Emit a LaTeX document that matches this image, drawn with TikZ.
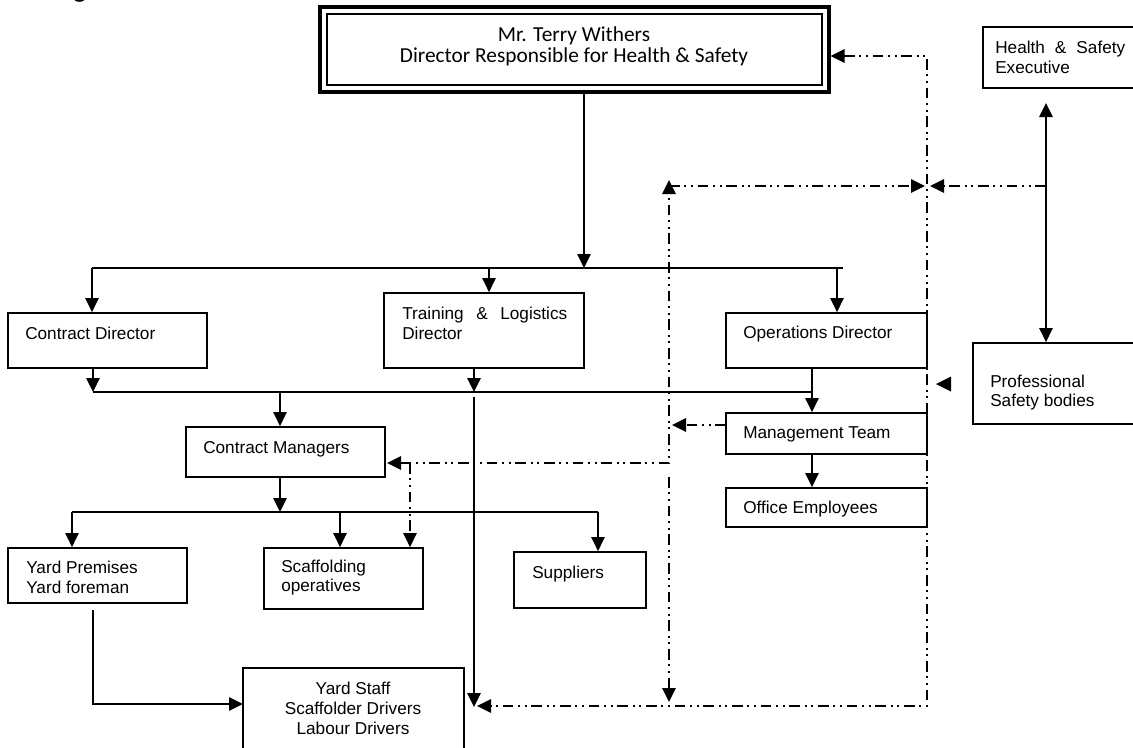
\documentclass[tikz,border=0pt]{standalone}
\usepackage{fontspec}
\setmainfont{Liberation Sans}
\newfontfamily\calfont{Carlito}
\usetikzlibrary{arrows.meta,fit,calc}
\begin{document}
\begin{tikzpicture}[x=0.75pt,y=-0.75pt,
  box/.style={draw, line width=1.35pt, inner sep=0pt},
  lbl/.style={inner sep=0pt, font=\fontsize{12.9}{14.8}\selectfont, align=left},
  arr/.style={line width=1.35pt, -{Triangle[length=10.5pt,width=10pt]}},
  barr/.style={line width=1.35pt, {Triangle[length=10.5pt,width=10pt]}-{Triangle[length=10.5pt,width=10pt]}},
  conn/.style={line width=1.35pt},
  dd/.style={line width=1.35pt, dash pattern=on 8pt off 3.5pt on 1.5pt off 3.5pt on 1.5pt off 3.5pt},
]
\useasboundingbox (0,0) rectangle (1133,747);
\fill[white] (0,0) rectangle (1133,747);

% heading cut off at the top
\node[inner sep=0pt, anchor=base west, font=\calfont\fontsize{21}{24}\selectfont] (head) at (45,-3) {Organisation Chart};

% boxes
\node[draw, line width=2.3pt, inner sep=0pt, fit={(320,7) (829,92)}] (title) {};
\node[draw, line width=1.2pt, inner sep=0pt, fit={(327,14) (822,85)}] (titlein) {};
\node[inner sep=0pt, align=center, font=\calfont\fontsize{16}{15.75}\selectfont] (ttxt) at (574,46) {Mr. Terry Withers\\Director Responsible for Health \& Safety};

\node[box, fit={(983,27) (1150,88)}] (hse) {};
\node[lbl, anchor=west] (hsetxt) at (995,57) {\makebox[97.5pt][s]{Health \& Safety}\\Executive};

\node[box, fit={(8,313) (207,368)}] (cd) {};
\node[lbl, anchor=base west] (cdtxt) at (25,339.5) {Contract Director};

\node[box, fit={(384,293) (584,368)}] (tl) {};
\node[lbl, anchor=west] (tltxt) at (402,323) {\makebox[123.75pt][s]{Training \& Logistics}\\Director};

\node[box, fit={(726,313) (927,368)}] (od) {};
\node[lbl, anchor=base west] (odtxt) at (743,338.5) {Operations Director};

\node[box, fit={(726,413) (927,454)}] (mt) {};
\node[lbl, anchor=base west] (mttxt) at (743,438) {Management Team};

\node[box, fit={(726,488) (927,527)}] (oe) {};
\node[lbl, anchor=base west] (oetxt) at (743,513.5) {Office Employees};

\node[box, fit={(973,343) (1150,424)}] (psb) {};
\node[lbl, anchor=west] (psbtxt) at (990,392.5) {Professional\\Safety bodies};

\node[box, fit={(186,427) (385,477)}] (cm) {};
\node[lbl, anchor=base west] (cmtxt) at (203,453.5) {Contract Managers};

\node[box, fit={(8,548) (187,603)}] (yp) {};
\node[lbl, anchor=west] (yptxt) at (26,577.5) {Yard Premises\\Yard foreman};

\node[box, fit={(264,548) (423,609)}] (so) {};
\node[lbl, anchor=west] (sotxt) at (281,577.5) {Scaffolding\\operatives};

\node[box, fit={(514,552) (646,608)}] (sup) {};
\node[lbl, anchor=base west] (suptxt) at (532,578.5) {Suppliers};

\node[box, fit={(243,668) (464,780)}] (ys) {};
\node[lbl, align=center] (ystxt) at (353,708.5) {Yard Staff\\Scaffolder Drivers\\Labour Drivers};

% bus coordinates
\coordinate (b1L) at (92,268);
\coordinate (b1R) at (843,268);
\coordinate (b1T) at (584,268);
\coordinate (b1M) at (489,268);
\coordinate (b1O) at (837,268);
\coordinate (b2L) at (93,392);
\coordinate (b2R) at (812,392);
\coordinate (b2T) at (474,392);
\coordinate (b2C) at (280,392);
\coordinate (tlv) at (474,397);
\coordinate (ysT) at (474,707);
\coordinate (b3L) at (72,512);
\coordinate (b3R) at (598,512);
\coordinate (b3C) at (280,512);
\coordinate (b3S) at (340,512);
\coordinate (ypv) at (93,610);
\coordinate (ysl) at (243,704);
\coordinate (hv) at (1046,186);
\coordinate (hvT) at (1046,103);

% solid connectors
\draw[arr] (b1T |- title.south) -- (b1T);
\draw[conn] (b1L) -- (b1R);
\draw[arr] (b1L) -- (b1L |- cd.north);
\draw[arr] (b1M) -- (b1M |- tl.north);
\draw[arr] (b1O) -- (b1O |- od.north);

\draw[arr] (b2L |- cd.south) -- (b2L);
\draw[arr] (b2T |- tl.south) -- (b2T);
\draw[conn] (b2L) -- (b2R);
\draw[arr] (b2R |- od.south) -- (b2R |- mt.north);
\draw[arr] (b2R |- mt.south) -- (b2R |- oe.north);
\draw[arr] (b2C) -- (b2C |- cm.north);
\draw[arr] (tlv) -- (ysT);

\draw[arr] (b3C |- cm.south) -- (b3C);
\draw[conn] (b3L) -- (b3R);
\draw[arr] (b3L) -- (b3L |- yp.north);
\draw[arr] (b3S) -- (b3S |- so.north);
\draw[arr] (b3R) -- (b3R |- sup.north);
\draw[arr] (ypv) |- (ysl);

\draw[barr] (hvT) -- (hvT |- psb.north);

% dash-dot connectors
\coordinate (ddTR) at (927,56);
\coordinate (ddBR) at (927,706);
\coordinate (ysR) at (477,706);
\coordinate (hsL) at (930,186);
\coordinate (lvR) at (925,186);
\coordinate (lvT) at (669,180);
\coordinate (lvC) at (669,463);
\coordinate (lvS) at (669,477);
\coordinate (lvB) at (669,702);
\coordinate (mtA) at (672,425);
\coordinate (mtS) at (726,425);
\coordinate (cmA) at (387,463);
\coordinate (soV) at (410,463);

\draw[dd, barr] (ddTR -| title.east) -- (ddTR) -- (ddBR) -- (ysR);
\draw[dd, arr] (hv) -- (hsL);
\draw[dd, arr] (669,186) -- (lvR);
\draw[dd, barr] (cmA) -- (lvC) -- (lvT);
\draw[dd, arr] (mtS) -- (mtA);
\draw[dd, arr] (lvS) -- (lvB);
\draw[dd, arr] (soV) -- (soV |- so.north);
% lone arrowhead beside Professional Safety bodies
\fill (936,384) -- (951,376.5) -- (951,391.5) -- cycle;
\end{tikzpicture}
\end{document}
